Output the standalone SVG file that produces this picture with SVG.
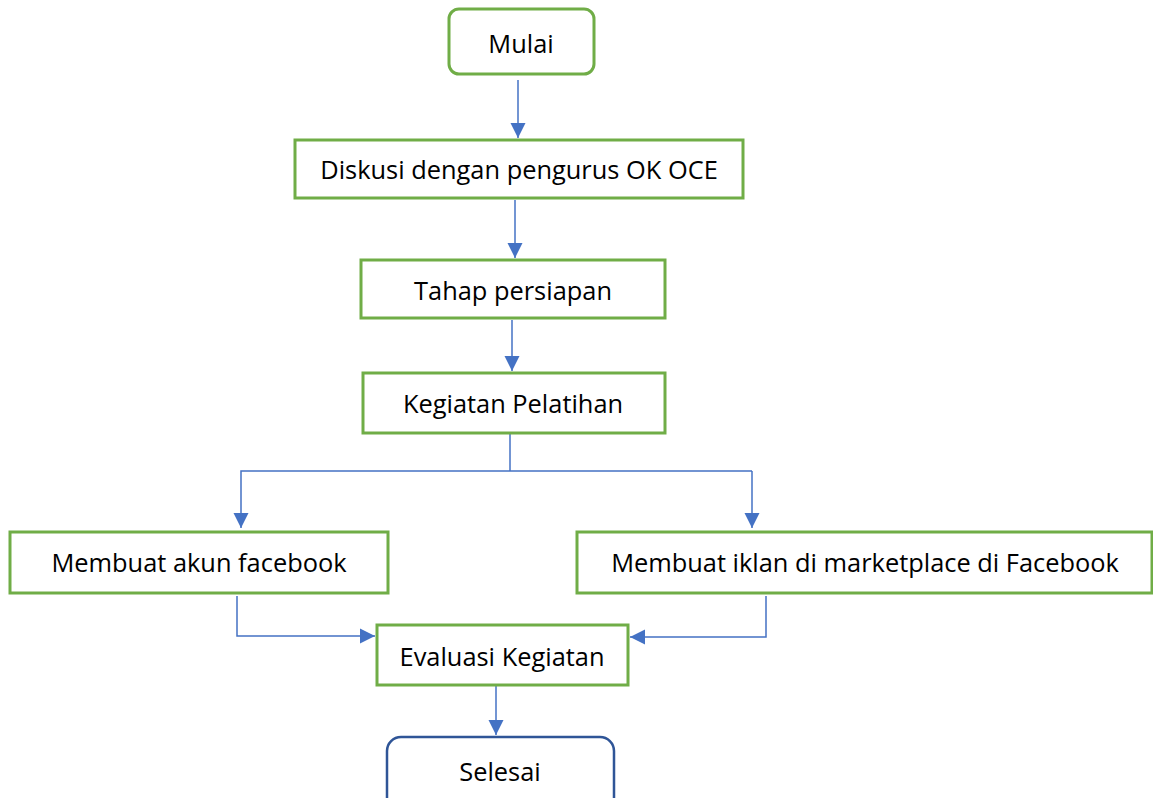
<svg xmlns="http://www.w3.org/2000/svg" width="1153" height="798" viewBox="0 0 1153 798">
<style>
.box{fill:#fff;stroke:#70AD47;stroke-width:3}
.end{fill:#fff;stroke:#2F5597;stroke-width:2.5}
.t{font-family:"Open Sans","Liberation Sans",sans-serif;font-size:25.4px;fill:#000;text-anchor:middle;dominant-baseline:central}
.c{fill:none;stroke:#4472C4;stroke-width:1.5}
</style>
<defs>
<marker id="ah" viewBox="0 0 10 10" refX="10" refY="5" markerWidth="15" markerHeight="16" markerUnits="userSpaceOnUse" orient="auto">
<path d="M0,0 L10,5 L0,10 Z" fill="#4472C4"/>
</marker>
</defs>
<rect width="1153" height="798" fill="#fff"/>
<g id="connectors">
<path class="c" d="M518,80 V138" marker-end="url(#ah)"/>
<path class="c" d="M515,200 V258" marker-end="url(#ah)"/>
<path class="c" d="M512,320 V371" marker-end="url(#ah)"/>
<path class="c" d="M510,434 V471"/>
<path class="c" d="M752,471 H241 V528" marker-end="url(#ah)"/>
<path class="c" d="M752,471 V528" marker-end="url(#ah)"/>
<path class="c" d="M237,596 V636 H375" marker-end="url(#ah)"/>
<path class="c" d="M766,596 V637 H630" marker-end="url(#ah)"/>
<path class="c" d="M496,686 V735" marker-end="url(#ah)"/>
</g>
<g id="mulai">
<rect class="box" x="449" y="9" width="145" height="65" rx="10"/>
<text class="t" x="521" y="43">Mulai</text>
</g>
<g id="diskusi">
<rect class="box" x="295" y="140" width="448" height="58"/>
<text class="t" x="519" y="169">Diskusi dengan pengurus OK OCE</text>
</g>
<g id="tahap">
<rect class="box" x="361" y="260" width="304" height="58"/>
<text class="t" x="513" y="290">Tahap persiapan</text>
</g>
<g id="kegiatan">
<rect class="box" x="363" y="373" width="302" height="60"/>
<text class="t" x="513" y="403">Kegiatan Pelatihan</text>
</g>
<g id="akun">
<rect class="box" x="10" y="532" width="378" height="61"/>
<text class="t" x="199" y="562">Membuat akun facebook</text>
</g>
<g id="iklan">
<rect class="box" x="577" y="532" width="575" height="61"/>
<text class="t" x="865" y="562">Membuat iklan di marketplace di Facebook</text>
</g>
<g id="evaluasi">
<rect class="box" x="377" y="625" width="251" height="60"/>
<text class="t" x="502" y="656">Evaluasi Kegiatan</text>
</g>
<g id="selesai">
<rect class="end" x="387" y="737" width="227" height="80" rx="14"/>
<text class="t" x="500" y="771">Selesai</text>
</g>
</svg>
